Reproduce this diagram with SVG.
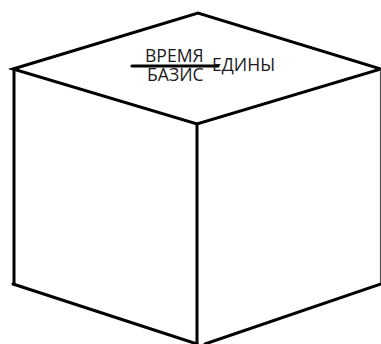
<svg xmlns="http://www.w3.org/2000/svg" width="381" height="344" viewBox="0 0 381 344">
<style>
.e{stroke:#000;stroke-width:3;fill:none;stroke-linecap:round}
.t{font-family:"Open Sans","Noto Sans",sans-serif;font-size:17.6px;fill:#1a1a1a}
</style>
<rect width="381" height="344" fill="#fff"/>
<g id="connectors">
<path class="e" d="M13 69L198 13L381 69L197 124Z"/>
<path class="e" d="M14 69V284"/>
<path class="e" d="M197 124V344"/>
<path class="e" style="stroke-width:1.2;stroke:#555" d="M380.500 70V284"/>
<path class="e" d="M13 284L197 344"/>
<path class="e" d="M205 344L381 284"/>
<path class="e" style="stroke-width:3.200" d="M132 66H218"/>
</g>
<g id="label-time"><text class="t" x="145" y="62">ВРЕМЯ</text></g>
<g id="label-basis"><text class="t" x="147" y="81">БАЗИС</text></g>
<g id="label-units"><text class="t" x="212" y="71">ЕДИНЫ</text></g>
</svg>
